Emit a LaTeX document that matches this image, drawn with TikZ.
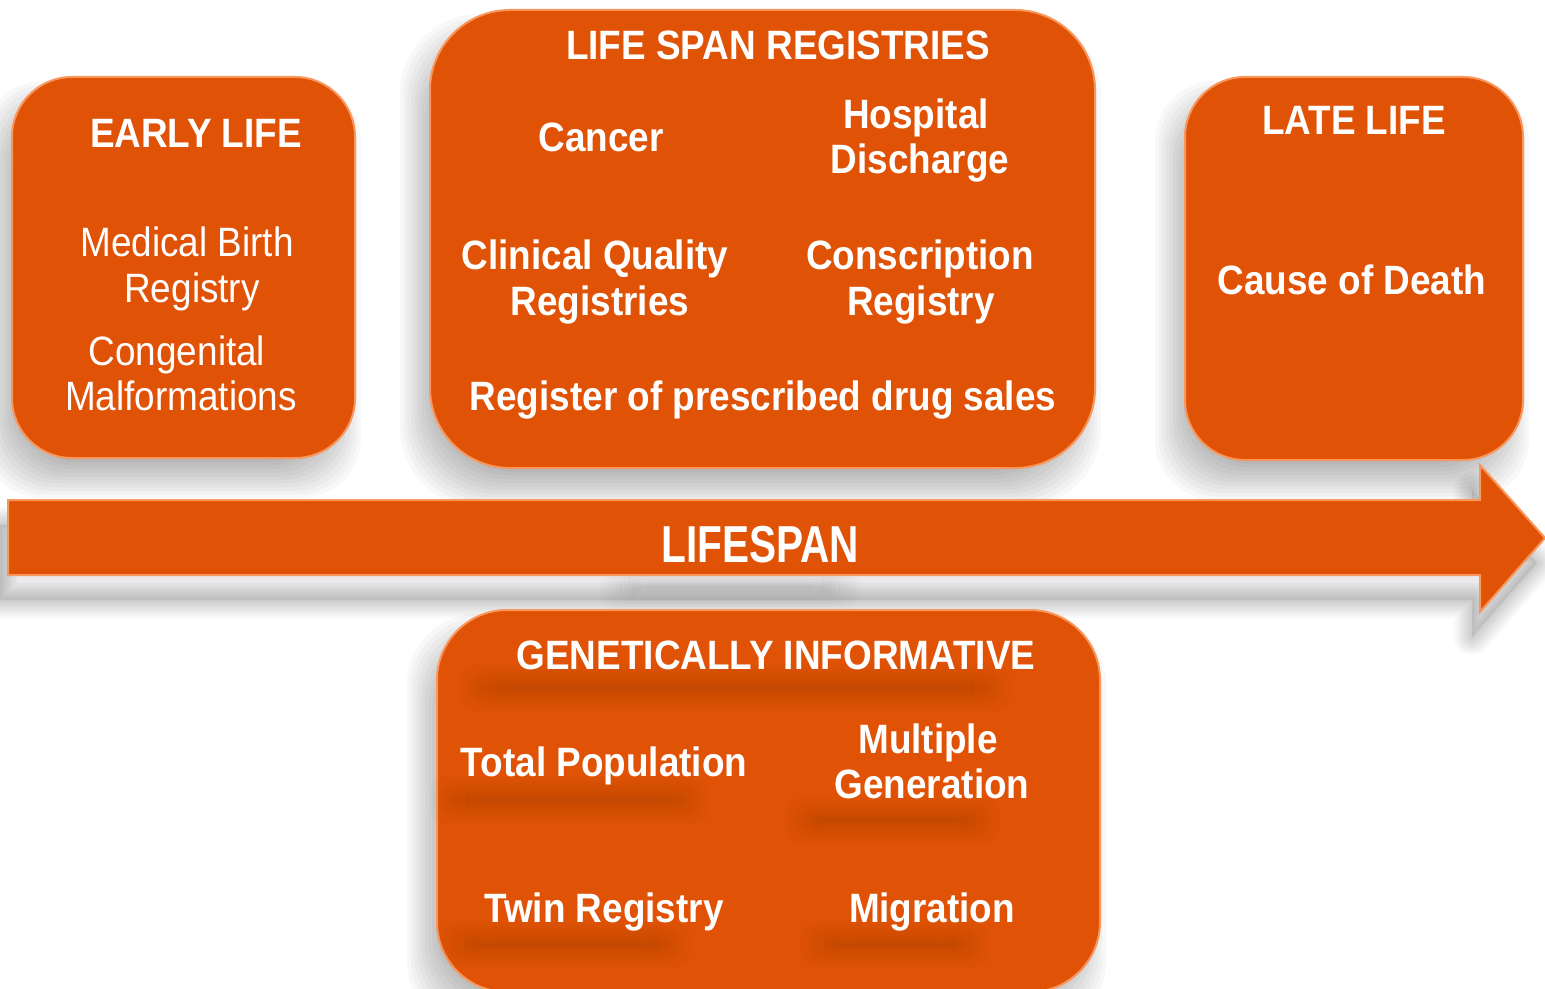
\documentclass[tikz,border=0pt]{standalone}
\usepackage{fontspec}
\setmainfont{Liberation Sans}[FakeStretch=0.9]
\newfontfamily\narrowfont{Liberation Sans}[FakeStretch=0.78]
\definecolor{org}{RGB}{224,82,6}
\definecolor{rim}{RGB}{248,150,92}
\newcommand\softshadow[5]{%
  \foreach \k in {0,...,10}{%
    \fill[black, opacity=0.028, rounded corners=#5]
      ({#1-12-18+3.6*\k},{#2+22-18+3.6*\k}) rectangle ({#3-12+18-3.6*\k},{#4+22+18-3.6*\k});
  }}
\newcommand\smudge[4]{%
  \foreach \k in {0,...,9}{%
    \fill[black, opacity=0.011, rounded corners=9pt]
      ({#1-20+4*\k},{#2-18+3*\k}) rectangle ({#3+20-4*\k},{#4+18-3*\k});
  }}
\begin{document}
\begin{tikzpicture}[x=0.5pt,y=-0.5pt,
  box/.style={fill=org, draw=rim, line width=1pt},
  wtxt/.style={text=white, anchor=base, inner sep=0pt, font=\fontsize{20.5}{23}\selectfont},
  btxt/.style={wtxt, font=\fontsize{20.5}{23}\selectfont\bfseries},
  ntxt/.style={wtxt, font=\narrowfont\fontsize{26}{30}\selectfont\bfseries}]
\useasboundingbox (0,0) rectangle (1545,989);
\clip (0,0) rectangle (1545,989);
\fill[white] (0,0) rectangle (1545,989);

% shadows
\softshadow{12}{77}{355}{458}{30pt}
\softshadow{430}{10}{1095}{468}{40pt}
\softshadow{1185}{77}{1523}{460}{30pt}
\softshadow{437}{610}{1100}{992}{35pt}
\begin{scope}[shift={(-8,25)}]
  \foreach \k in {1,...,8}{%
    \draw[black, opacity=0.025, line width={\k*2.25pt}, line join=round]
      (8,500) -- (1480,500) -- (1480,465) -- (1545,538) -- (1480,612) -- (1480,575) -- (8,575) -- cycle;}
  \fill[black, opacity=0.08]
      (8,500) -- (1480,500) -- (1480,465) -- (1545,538) -- (1480,612) -- (1480,575) -- (8,575) -- cycle;
\end{scope}
\smudge{620}{582}{840}{592}

% boxes
\path[box, rounded corners=30pt] (12,77) rectangle (355,458);
\path[box, rounded corners=40pt] (430,10) rectangle (1095,468);
\path[box, rounded corners=30pt] (1185,77) rectangle (1523,460);
\path[box, line join=miter] (8,500) -- (1480,500) -- (1480,465) -- (1545,538) -- (1480,612) -- (1480,575) -- (8,575) -- cycle;
\path[box, rounded corners=35pt] (437,610) rectangle (1100,992);

% text smudges in genetic box
\smudge{480}{682}{990}{694}
\smudge{450}{794}{690}{806}
\smudge{805}{815}{980}{826}
\smudge{460}{939}{670}{950}
\smudge{820}{939}{970}{950}

% early life
\node[btxt] (elt) at (196,148) {EARLY LIFE};
\node[wtxt] (mb1) at (187,257) {Medical Birth};
\node[wtxt] (mb2) at (192,303) {Registry};
\node[wtxt] (cm1) at (177,365) {Congenital};
\node[wtxt] (cm2) at (181,410) {Malformations};

% life span registries
\node[btxt] (lst) at (778,60) {LIFE SPAN REGISTRIES};
\node[btxt] (can) at (601,152) {Cancer};
\node[btxt] (hd1) at (916,129) {Hospital};
\node[btxt] (hd2) at (920,174) {Discharge};
\node[btxt] (cq1) at (595,270) {Clinical Quality};
\node[btxt] (cq2) at (600,315) {Registries};
\node[btxt] (cr1) at (920,270) {Conscription};
\node[btxt] (cr2) at (921,315) {Registry};
\node[btxt] (rpd) at (763,410) {Register of prescribed drug sales};

% late life
\node[btxt] (llt) at (1354,135) {LATE LIFE};
\node[btxt] (cod) at (1352,295) {Cause of Death};

% arrow label
\node[ntxt] (lsp) at (760,562) {LIFESPAN};

% genetically informative
\node[btxt] (git) at (776,669) {GENETICALLY INFORMATIVE};
\node[btxt] (tp) at (604,776) {Total Population};
\node[btxt] (mg1) at (928,753) {Multiple};
\node[btxt] (mg2) at (932,798) {Generation};
\node[btxt] (tr) at (604,922) {Twin Registry};
\node[btxt] (mig) at (932,922) {Migration};
\end{tikzpicture}
\end{document}
